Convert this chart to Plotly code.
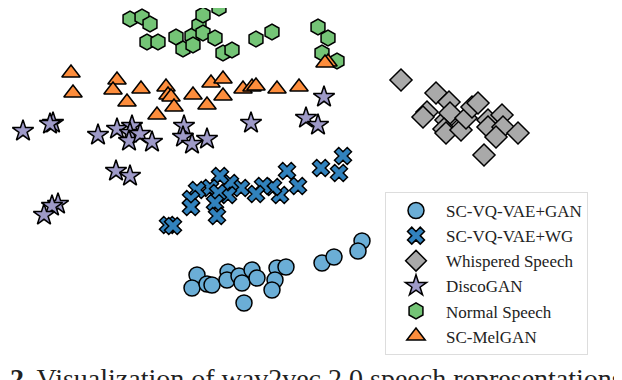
import plotly.graph_objects as go

# Data (2-D embedding coordinates, screen-like units)
gan_x = [197, 192, 207, 212, 228, 227, 239, 242, 252, 257, 244, 277, 286, 275, 272, 322, 334, 362, 358]
gan_y = [275, 288, 284, 285, 272, 280, 276, 283, 270, 278, 303, 268, 267, 280, 290, 263, 257, 241, 251]

wg_x = [343, 321, 339, 287, 298, 280, 273, 263, 256, 241, 230, 228, 220, 210, 218, 215, 217, 197, 191, 191, 168, 173]
wg_y = [156, 168, 173, 171, 186, 195, 187, 186, 194, 188, 183, 195, 176, 188, 193, 203, 216, 190, 199, 207, 225, 226]

wh_x = [401, 436, 449, 427, 423, 446, 450, 444, 446, 461, 466, 472, 478, 488, 488, 502, 503, 496, 518, 484]
wh_y = [80, 93, 102, 112, 117, 120, 113, 129, 133, 130, 118, 107, 103, 120, 127, 115, 127, 137, 133, 155]

dg_x = [324, 306, 318, 251, 184, 53, 50, 23, 117, 132, 98, 130, 129, 140, 152, 183, 192, 207, 116, 130, 58, 52, 44]
dg_y = [97, 118, 125, 123, 126, 123, 124, 131, 129, 126, 135, 133, 141, 134, 142, 137, 144, 139, 171, 176, 204, 206, 215]

ns_x = [130, 142, 150, 147, 158, 176, 183, 192, 193, 199, 203, 203, 215, 219, 223, 232, 256, 272, 318, 328, 322, 337]
ns_y = [19, 17, 24, 42, 42, 37, 49, 36, 45, 25, 15, 33, 38, 8, 53, 50, 39, 32, 27, 38, 53, 61]

mg_x = [71, 73, 117, 113, 127, 141, 166, 168, 171, 174, 157, 193, 207, 211, 223, 223, 243, 252, 256, 277, 299, 328, 325]
mg_y = [73, 93, 80, 90, 102, 89, 87, 95, 97, 107, 115, 95, 105, 83, 79, 96, 89, 87, 86, 89, 87, 62, 63]

names = ["SC-VQ-VAE+GAN", "SC-VQ-VAE+WG", "Whispered Speech", "DiscoGAN", "Normal Speech", "SC-MelGAN"]
caption = "<b>2</b> \u2009Visualization of wav2vec 2.0 speech representations"

series = [
    (gan_x, gan_y, "circle", "#6baed6", 16),
    (wg_x, wg_y, "x", "#3182bd", 15),
    (wh_x, wh_y, "diamond", "#a9a9a9", 17),
    (dg_x, dg_y, "star", "#9e9ac8", 16),
    (ns_x, ns_y, "hexagon", "#74c476", 16),
    (mg_x, mg_y, "triangle-up", "#fd8d3c", 16),
]

# the page body adds an 8px offset; shift the axes so marks land where the picture has them
OFF = 8
W, H = 622, 380

fig = go.Figure()
for name, (xs, ys, sym, col, sz) in zip(names, series):
    fig.add_trace(go.Scatter(
        x=xs, y=ys, mode="markers", name=name,
        marker=dict(symbol=sym, color=col, size=sz, line=dict(color="black", width=1.5)),
    ))

fig.update_layout(
    width=W, height=H,
    margin=dict(l=0, r=0, t=0, b=0),
    paper_bgcolor="white", plot_bgcolor="white",
    xaxis=dict(range=[OFF, W + OFF], visible=False, fixedrange=True),
    yaxis=dict(range=[H + OFF, OFF], visible=False, fixedrange=True),
    showlegend=True,
    legend=dict(
        x=(385 - OFF) / W, y=1 - (192 - OFF) / H, xanchor="left", yanchor="top",
        bgcolor="white", bordercolor="#dddddd", borderwidth=1,
        font=dict(family="Liberation Serif", size=17, color="#222222"),
        itemsizing="trace", itemwidth=50,
    ),
    annotations=[dict(
        x=0, y=1 - (361 - OFF) / H, xref="paper", yref="paper", xanchor="left", yanchor="top",
        text=caption, showarrow=False,
        font=dict(family="Liberation Serif", size=28, color="#222222"),
    )],
)

fig.write_html("out.html")
